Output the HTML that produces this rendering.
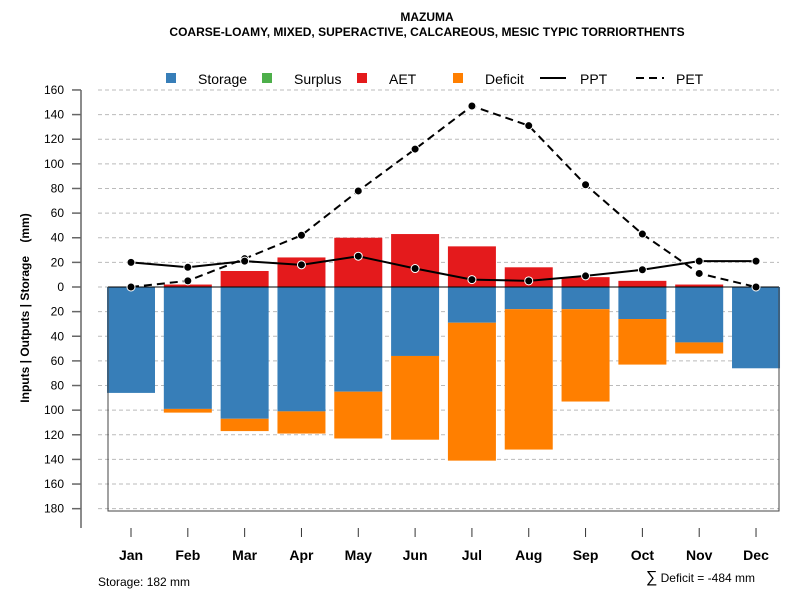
<!DOCTYPE html>
<html><head><meta charset="utf-8"><style>
body{margin:0;background:#fff;}
svg{display:block;font-family:"Liberation Sans",sans-serif;}
</style></head><body>
<svg id="chart" width="800" height="600">
<text x="427" y="21" text-anchor="middle" font-size="12" font-weight="bold">MAZUMA</text>
<text x="427" y="36" text-anchor="middle" font-size="12" font-weight="bold">COARSE-LOAMY, MIXED, SUPERACTIVE, CALCAREOUS, MESIC TYPIC TORRIORTHENTS</text>
<g font-size="14">
<g><rect x="166" y="73" width="10" height="10" fill="#377eb8"/><text x="198" y="84">Storage</text></g>
<g><rect x="262" y="73" width="10" height="10" fill="#4daf4a"/><text x="294" y="84">Surplus</text></g>
<g><rect x="357" y="73" width="10" height="10" fill="#e41a1c"/><text x="389" y="84">AET</text></g>
<g><rect x="453" y="73" width="10" height="10" fill="#ff7f00"/><text x="485" y="84">Deficit</text></g>
<g><line x1="540" y1="78" x2="566" y2="78" stroke="#000" stroke-width="2"/><text x="580" y="84">PPT</text></g>
<g><line x1="636" y1="78" x2="664" y2="78" stroke="#000" stroke-width="2" stroke-dasharray="8,5"/><text x="676" y="84">PET</text></g>
</g>
<text transform="translate(29,308) rotate(-90)" text-anchor="middle" font-size="12" font-weight="bold">Inputs | Outputs | Storage&#160;&#160;&#160;&#160;(mm)</text>
<g id="grid"></g><g id="bars"></g><g id="lines"></g><g id="axes"></g>
<text x="98" y="586" font-size="12">Storage: 182 mm</text>
<text x="755" y="582" text-anchor="end" font-size="12"><tspan font-size="16">∑</tspan> Deficit = -484 mm</text>
</svg>
<script>
const months=["Jan","Feb","Mar","Apr","May","Jun","Jul","Aug","Sep","Oct","Nov","Dec"];
const storage=[86,99,107,101,85,56,29,18,18,26,45,66];
const deficit=[0,3,10,18,38,68,112,114,75,37,9,0];
const aet=[0,2,13,24,40,43,33,16,8,5,2,0];
const ppt=[20,16,21,18,25,15,6,5,9,14,21,21];
const pet=[0,5,23,42,78,112,147,131,83,43,11,0];
const yTicks=[160,140,120,100,80,60,40,20,0,-20,-40,-60,-80,-100,-120,-140,-160,-180];
const NS="http://www.w3.org/2000/svg";
const y=v=>287-v*1.2315;
const x=i=>131+i*56.82;
function mk(p,t,a){const e=document.createElementNS(NS,t);for(const k in a)e.setAttribute(k,a[k]);p.appendChild(e);return e;}
const grid=document.getElementById('grid'),bars=document.getElementById('bars'),lines=document.getElementById('lines'),axes=document.getElementById('axes');
yTicks.forEach(t=>{
 const g=mk(grid,'line',{x1:98,x2:779,y1:y(t),y2:y(t),stroke:'#bbb','stroke-dasharray':'4,3'});
 
 
 const tk=mk(axes,'line',{x1:72,x2:81,y1:y(t),y2:y(t),stroke:'#666','stroke-width':1.5});
 
 
 const l=mk(axes,'text',{x:64,y:y(t)+4,'text-anchor':'end','font-size':12});
 l.textContent=Math.abs(t);
 
 
});
months.forEach((m,i)=>{
 const cx=x(i),w=48;
 const s=mk(bars,'rect',{x:cx-w/2,y:y(0),width:w,height:y(-storage[i])-y(0),fill:'#377eb8'});
 
 
 if(deficit[i]>0){const d=mk(bars,'rect',{x:cx-w/2,y:y(-storage[i]),width:w,height:y(-storage[i]-deficit[i])-y(-storage[i]),fill:'#ff7f00'});
 
 }
 if(aet[i]>0){const a=mk(bars,'rect',{x:cx-w/2,y:y(aet[i]),width:w,height:y(0)-y(aet[i]),fill:'#e41a1c'});
 
 }
 const tk=mk(axes,'line',{x1:cx,x2:cx,y1:528,y2:537,stroke:'#333'});
 
 
 const l=mk(axes,'text',{x:cx,y:560,'text-anchor':'middle','font-size':14,'font-weight':'bold'});
 l.textContent=m;
 
 
});
const zl=mk(lines,'line',{x1:108,x2:779,y1:y(0),y2:y(0),stroke:'#000'});


const box=mk(lines,'path',{d:`M108 ${y(0)} V511 H779 V${y(0)}`,fill:'none',stroke:'#444'});


[[pet,'pet-line','8,5'],[ppt,'ppt-line','']].forEach(([arr,name,dash])=>{
 const p=mk(lines,'polyline',{points:arr.map((v,i)=>x(i)+','+y(v)).join(' '),fill:'none',stroke:'#000','stroke-width':2,'stroke-dasharray':dash});
 
 
 arr.forEach((v,i)=>{const c=mk(lines,'circle',{cx:x(i),cy:y(v),r:4,fill:'#000',stroke:'#fff','stroke-width':1});
 
 });
});
const ya=mk(axes,'line',{x1:81,x2:81,y1:90,y2:528,stroke:'#666','stroke-width':1.5});


</script>
</body></html>
